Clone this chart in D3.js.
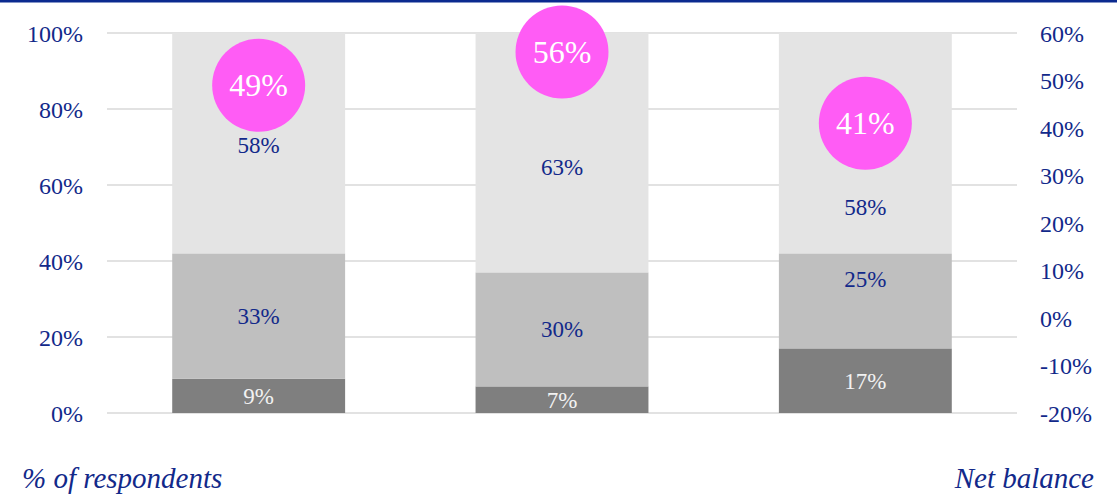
<!DOCTYPE html>
<html>
<head>
<meta charset="utf-8">
<script src="https://cdn.jsdelivr.net/npm/d3@7"></script>
<style>
  body { margin: 0; background: #fff; }
  svg text { font-family: "Liberation Serif", "DejaVu Serif", serif; }
</style>
</head>
<body>
<script>
// data
const groups = ["A", "B", "C"];
const bottomVals = [9, 7, 17];
const middleVals = [33, 30, 25];
const topVals = [58, 63, 58];
const netBalance = [49, 56, 41];
const leftTicks = [0, 20, 40, 60, 80, 100];
const rightTicks = [-20, -10, 0, 10, 20, 30, 40, 50, 60];
// where the segment labels sit (left axis units)
const bottomLabelAt = [4.5, 3.5, 8.5];
const middleLabelAt = [25.5, 22, 35.3];
const topLabelAt = [70.5, 64.7, 54.2];

const width = 1117, height = 495;
const blue = "#12298a";

const svg = d3.select("body").append("svg")
    .attr("width", width)
    .attr("height", height);

// top rule
svg.append("rect")
    .attr("x", 0).attr("y", 0)
    .attr("width", width).attr("height", 2.5)
    .attr("fill", "#0b2a8f");

const x = d3.scaleBand()
    .domain(groups)
    .range([107, 1017])
    .paddingInner(0.43)
    .paddingOuter(0.215);

const y = d3.scaleLinear().domain([0, 100]).range([413, 33]);
const y2 = d3.scaleLinear().domain([-20, 60]).range([413, 33]);

// gridlines
svg.append("g")
    .selectAll("line")
    .data(leftTicks)
    .enter().append("line")
    .attr("x1", 107).attr("x2", 1017)
    .attr("y1", d => y(d)).attr("y2", d => y(d))
    .attr("stroke", "#d9d9d9")
    .attr("stroke-width", 1.5);

// stacked bars
const rows = groups.map((g, i) => ({ g, i, bottom: bottomVals[i], middle: middleVals[i], top: topVals[i] }));
const stack = d3.stack().keys(["bottom", "middle", "top"]);
const series = stack(rows);
const colors = { bottom: "#7f7f7f", middle: "#bfbfbf", top: "#e4e4e4" };
const labelColors = { bottom: "#f2f2f2", middle: blue, top: blue };
const labelAt = { bottom: bottomLabelAt, middle: middleLabelAt, top: topLabelAt };

series.forEach(s => {
    svg.append("g").selectAll("rect")
        .data(s)
        .enter().append("rect")
        .attr("x", d => x(d.data.g))
        .attr("width", x.bandwidth())
        .attr("y", d => y(d[1]))
        .attr("height", d => y(d[0]) - y(d[1]))
        .attr("fill", colors[s.key]);
});

// net balance circles
const dots = svg.append("g")
    .selectAll("g")
    .data(netBalance)
    .enter().append("g")
    .attr("transform", (d, i) => `translate(${x(groups[i]) + x.bandwidth() / 2},${y2(d)})`);
dots.append("circle")
    .attr("r", 46.5)
    .attr("fill", "#ff5cf5");
dots.append("text")
    .attr("text-anchor", "middle")
    .attr("y", 11)
    .style("font-size", "32px")
    .attr("fill", "#ffffff")
    .text(d => d + "%");

// segment labels
series.forEach(s => {
    svg.append("g").selectAll("text")
        .data(s)
        .enter().append("text")
        .attr("x", d => x(d.data.g) + x.bandwidth() / 2)
        .attr("y", d => y(labelAt[s.key][d.data.i]) + 8)
        .attr("text-anchor", "middle")
        .style("font-size", "23px")
        .attr("fill", labelColors[s.key])
        .text(d => (d[1] - d[0]) + "%");
});

// axes
const leftAxis = svg.append("g")
    .attr("transform", "translate(83,0)")
    .call(d3.axisLeft(y).tickValues(leftTicks).tickSize(0).tickPadding(0).tickFormat(d => d + "%"));
leftAxis.select(".domain").remove();
leftAxis.selectAll("text")
    .style("font-size", "24px")
    .attr("fill", blue)
    .attr("dy", "0.35em");

const rightAxis = svg.append("g")
    .attr("transform", "translate(1040,0)")
    .call(d3.axisRight(y2).tickValues(rightTicks).tickSize(0).tickPadding(0).tickFormat(d => d + "%"));
rightAxis.select(".domain").remove();
rightAxis.selectAll("text")
    .style("font-size", "24px")
    .attr("fill", blue)
    .attr("dy", "0.35em");

// axis titles
svg.append("text")
    .attr("x", 22).attr("y", 488)
    .style("font-size", "29px")
    .style("font-style", "italic")
    .attr("fill", blue)
    .text("% of respondents");

svg.append("text")
    .attr("x", 1094).attr("y", 488)
    .attr("text-anchor", "end")
    .style("font-size", "29px")
    .style("font-style", "italic")
    .attr("fill", blue)
    .text("Net balance");
</script>
</body>
</html>
